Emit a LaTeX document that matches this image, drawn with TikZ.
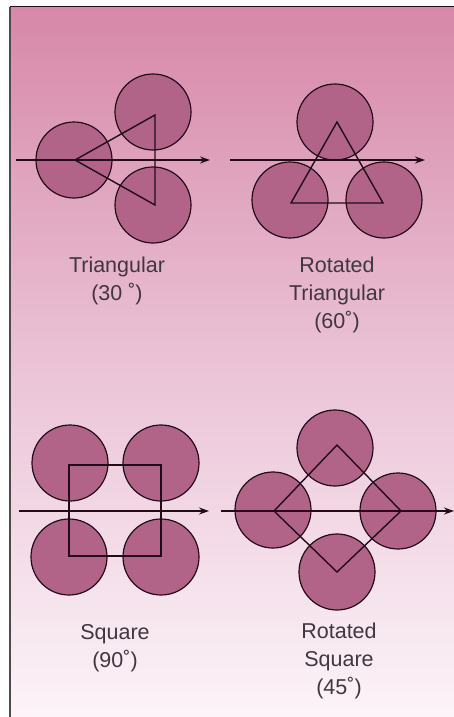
\documentclass[tikz,border=0pt]{standalone}
\usepackage{fontspec}
\setmainfont{Liberation Sans}
\usetikzlibrary{arrows.meta}
\definecolor{bgtop}{RGB}{214,136,168}
\definecolor{bgmid}{RGB}{234,194,214}
\definecolor{bgbot}{RGB}{252,244,248}
\definecolor{disc}{RGB}{178,100,136}
\definecolor{ink}{RGB}{35,12,26}
\definecolor{txt}{RGB}{65,55,65}
\tikzset{
  x=1pt,y=-1pt,
  pipe/.style={circle,draw=ink,fill=disc,line width=1.2pt,minimum size=76pt,inner sep=0pt},
  axisline/.style={draw=ink,line width=1.4pt,-{Stealth[length=10pt,width=7pt]}},
  outline/.style={draw=ink,line width=1.4pt,line join=miter},
  caption/.style={font=\fontsize{21.5}{28}\selectfont,text=txt,align=center,inner sep=0pt,anchor=north}
}
\begin{document}
\begin{tikzpicture}
\useasboundingbox (0,0) rectangle (454,717);
\fill[white] (0,0) rectangle (454,717);
\shade[top color=bgtop,bottom color=bgmid] (10,8) rectangle (454,360);
\shade[top color=bgmid,bottom color=bgbot] (10,360) rectangle (454,717);
\coordinate (fl) at (10,7); \coordinate (fc) at (454,7); \coordinate (fb) at (10,717);
\draw[draw=ink,line width=1pt] (fc) -- (fl);
\draw[draw=black!70,line width=1.5pt] (fl) -- (fb);

% Triangular
\node[pipe] (a1) at (74,160) {};
\node[pipe] (a2) at (153,112) {};
\node[pipe] (a3) at (153,205) {};
\coordinate (at1) at (75,160); \coordinate (at2) at (155,115); \coordinate (at3) at (155,205);
\draw[outline] (at1) -- (at2) -- (at3) -- cycle;
\coordinate (as) at (16,160); \coordinate (ae) at (210,160);
\draw[axisline] (as) -- (ae);
\node[caption] (la) at (117,257) {Triangular\\(30 ˚)};

% Rotated triangular
\node[pipe] (b1) at (335,122) {};
\node[pipe] (b2) at (290,200) {};
\node[pipe] (b3) at (384,200) {};
\coordinate (bt1) at (337,122); \coordinate (bt2) at (291,203); \coordinate (bt3) at (383,203);
\draw[outline] (bt1) -- (bt2) -- (bt3) -- cycle;
\coordinate (bs) at (230,160); \coordinate (be) at (425,160);
\draw[axisline] (bs) -- (be);
\node[caption] (lb) at (337,257) {Rotated\\Triangular\\(60˚)};

% Square
\node[pipe] (c1) at (70,463) {};
\node[pipe] (c2) at (161,463) {};
\node[pipe] (c3) at (69,557) {};
\node[pipe] (c4) at (161,557) {};
\coordinate (ct1) at (69,465); \coordinate (ct2) at (161,465); \coordinate (ct3) at (161,556); \coordinate (ct4) at (69,556);
\draw[outline] (ct1) -- (ct2) -- (ct3) -- (ct4) -- cycle;
\coordinate (cs) at (19,511); \coordinate (ce) at (209,511);
\draw[axisline] (cs) -- (ce);
\node[caption] (lc) at (115,624) {Square\\(90˚)};

% Rotated square
\node[pipe] (d1) at (335,448) {};
\node[pipe] (d2) at (273,510) {};
\node[pipe] (d3) at (398,511) {};
\node[pipe] (d4) at (337,572) {};
\coordinate (dt1) at (274,511); \coordinate (dt2) at (337,445); \coordinate (dt3) at (401,511); \coordinate (dt4) at (337,572);
\draw[outline] (dt1) -- (dt2) -- (dt3) -- (dt4) -- cycle;
\coordinate (ds) at (221,511); \coordinate (de) at (454,511);
\draw[axisline] (ds) -- (de);
\node[caption] (ld) at (339,623) {Rotated\\Square\\(45˚)};
\end{tikzpicture}
\end{document}
